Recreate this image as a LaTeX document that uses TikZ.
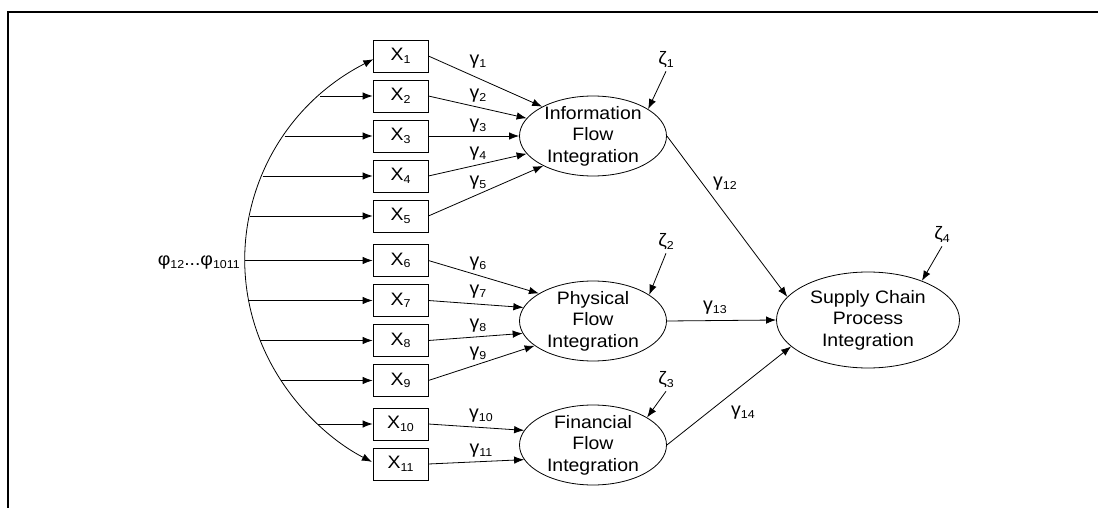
\documentclass[tikz,border=0pt]{standalone}
\usepackage{fontspec}
\setmainfont[FakeStretch=1.08]{Liberation Sans}
\usetikzlibrary{arrows.meta,shapes.geometric}
\newcommand{\lowidx}[1]{\raisebox{-2.5pt}{\fontsize{11.5}{12}\selectfont #1}}
\tikzset{
  every node/.style={font=\fontsize{18}{21.5}\selectfont},
  arr/.style={line width=0.8pt,-{Latex[length=10pt,width=7.5pt]}},
  obs/.style={draw,line width=0.8pt,minimum width=55pt,minimum height=32pt,inner sep=0pt},
  latent/.style={draw,ellipse,line width=0.8pt,inner sep=0pt,minimum width=147pt,minimum height=80pt},
  lbl/.style={inner sep=1pt},
  frameline/.style={line width=2pt}
}
\begin{document}
\begin{tikzpicture}[x=1pt,y=1pt]
\useasboundingbox (0,0) rectangle (1098,-508);
% frame
\draw[frameline] (8,-508) -- (8,-12) -- (1098,-12);

% observed indicators
\foreach \i/\yy in {1/56,2/96,3/136,4/176,5/216,6/260.5,7/300.5,8/340.5,9/380.5,10/424,11/464}
  \node[obs] (x\i) at (400.5,-\yy) {X\lowidx{\i}};

% latent constructs
\node[latent,label={[align=center,font=\fontsize{18}{21.5}\selectfont]center:Information\\Flow\\Integration}] (info) at (593,-136) {};
\node[latent,label={[align=center,font=\fontsize{18}{21.5}\selectfont]center:Physical\\Flow\\Integration}] (phys) at (593,-321) {};
\node[latent,label={[align=center,font=\fontsize{18}{21.5}\selectfont]center:Financial\\Flow\\Integration}] (fin) at (593,-445) {};
\node[latent,minimum width=183pt,minimum height=96pt,label={[align=center,font=\fontsize{18}{21.5}\selectfont]center:Supply Chain\\Process\\Integration}] (scpi) at (868,-320) {};

% covariance arc among the indicators
\draw[line width=0.8pt,{Latex[length=10pt,width=7.5pt]}-{Latex[length=10pt,width=7.5pt]}]
  (373.4,-59.2) arc[start angle=118.7,end angle=240.9,x radius=247pt,y radius=230pt];
\foreach \i/\xx in {2/320,3/284.7,4/262.5,5/249.8,6/245,7/248.7,8/260.2,9/281,10/317.7}
  \coordinate (a\i) at (\xx,0 |- x\i.west);
\foreach \i in {2,...,10}
  \draw[arr] (a\i) -- (x\i.west);
\node[lbl,anchor=east] (phi) at (241,-263) {φ\lowidx{12}...φ\lowidx{1011}};

% paths from indicators to constructs
\draw[arr] (x1.east) -- (info.150);
\draw[arr] (x2.east) -- (info.165);
\draw[arr] (x3.east) -- (info.180);
\draw[arr] (x4.east) -- (info.195);
\draw[arr] (x5.east) -- (info.211);
\draw[arr] (x6.east) -- (phys.153);
\draw[arr] (x7.east) -- (phys.169);
\draw[arr] (x8.east) -- (phys.190);
\draw[arr] (x9.east) -- (phys.203);
\draw[arr] (x10.east) -- (fin.168);
\draw[arr] (x11.east) -- (fin.192);

\node[lbl] (g1) at (478,-62) {γ\lowidx{1}};
\node[lbl] (g2) at (478,-96) {γ\lowidx{2}};
\node[lbl] (g3) at (478,-126) {γ\lowidx{3}};
\node[lbl] (g4) at (478,-154) {γ\lowidx{4}};
\node[lbl] (g5) at (478,-183) {γ\lowidx{5}};
\node[lbl] (g6) at (478,-264) {γ\lowidx{6}};
\node[lbl] (g7) at (478,-292) {γ\lowidx{7}};
\node[lbl] (g8) at (478,-326) {γ\lowidx{8}};
\node[lbl] (g9) at (478,-354) {γ\lowidx{9}};
\node[lbl] (g10) at (481,-416) {γ\lowidx{10}};
\node[lbl] (g11) at (481,-451) {γ\lowidx{11}};

% structural paths
\draw[arr] (info.east) -- (scpi.164);
\draw[arr] (phys.east) -- (scpi.west);
\draw[arr] (fin.east) -- (scpi.199);
\node[lbl] (g12) at (725,-184) {γ\lowidx{12}};
\node[lbl] (g13) at (715,-308) {γ\lowidx{13}};
\node[lbl] (g14) at (743,-413) {γ\lowidx{14}};

% disturbances
\node[lbl] (z1) at (666,-60) {ζ\lowidx{1}};
\node[lbl] (z2) at (666,-242) {ζ\lowidx{2}};
\node[lbl] (z3) at (666,-380) {ζ\lowidx{3}};
\node[lbl] (z4) at (942,-235) {ζ\lowidx{4}};
\draw[arr] ([yshift=-2pt]z1.south) -- (info.26);
\draw[arr] ([yshift=-2pt]z2.south) -- (phys.25);
\draw[arr] ([yshift=-2pt]z3.south) -- (fin.27);
\draw[arr] ([yshift=-2pt]z4.south) -- (scpi.36);
\end{tikzpicture}
\end{document}
